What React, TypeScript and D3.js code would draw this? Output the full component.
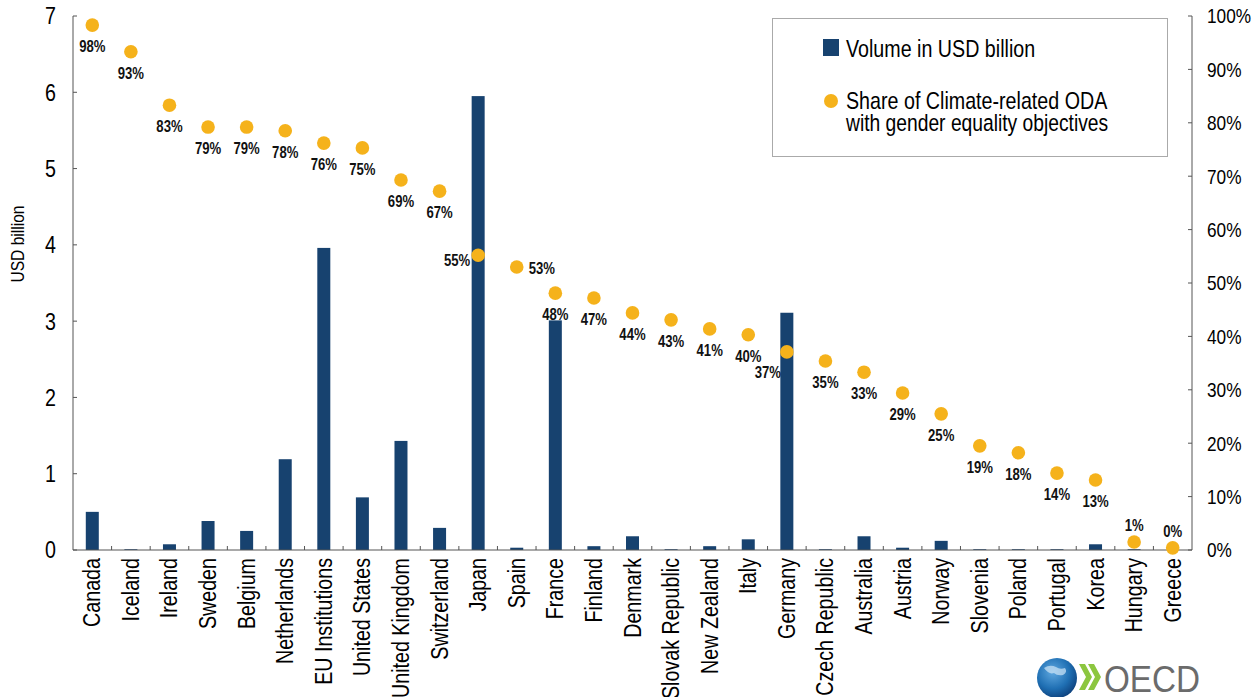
import React from "react";
import * as d3 from "d3";

const countries = [
  "Canada", "Iceland", "Ireland", "Sweden", "Belgium", "Netherlands", "EU Institutions",
  "United States", "United Kingdom", "Switzerland", "Japan", "Spain", "France", "Finland",
  "Denmark", "Slovak Republic", "New Zealand", "Italy", "Germany", "Czech Republic",
  "Australia", "Austria", "Norway", "Slovenia", "Poland", "Portugal", "Korea", "Hungary", "Greece",
];
const volume = [
  0.5, 0.01, 0.075, 0.38, 0.25, 1.19, 3.96, 0.69, 1.43, 0.29, 5.95, 0.03, 3.01, 0.05,
  0.18, 0.01, 0.05, 0.14, 3.11, 0.01, 0.18, 0.03, 0.12, 0.01, 0.01, 0.01, 0.075, 0.01, 0,
];
const share = [
  0.983, 0.933, 0.833, 0.792, 0.792, 0.785, 0.762, 0.753, 0.693, 0.672, 0.552, 0.53, 0.481,
  0.472, 0.444, 0.431, 0.414, 0.403, 0.371, 0.354, 0.333, 0.294, 0.255, 0.195, 0.182, 0.144,
  0.131, 0.015, 0.004,
];
const shareLabels = [
  "98%", "93%", "83%", "79%", "79%", "78%", "76%", "75%", "69%", "67%", "55%", "53%", "48%",
  "47%", "44%", "43%", "41%", "40%", "37%", "35%", "33%", "29%", "25%", "19%", "18%", "14%",
  "13%", "1%", "0%",
];
// label placement: below (default), left, right, above, leftBelow
const labelPos: Record<string, string> = {
  Japan: "left",
  Spain: "right",
  Germany: "leftBelow",
  Hungary: "above",
  Greece: "above",
};
const leftTicks = [0, 1, 2, 3, 4, 5, 6, 7];
const rightTicks = [0, 0.1, 0.2, 0.3, 0.4, 0.5, 0.6, 0.7, 0.8, 0.9, 1.0];

const W = 1260;
const H = 697;
const M = { left: 73, right: 1192, top: 16, bottom: 550 };
const FONT = "'Liberation Sans', Arial, sans-serif";
const NARROW = 0.82;
const BAR = "#17426f";
const DOT = "#f5b21b";

type NTProps = {
  x: number;
  y: number;
  rotate?: number;
  size: number;
  anchor?: string;
  bold?: boolean;
  fill?: string;
  dy?: string;
  children: React.ReactNode;
};
function NText({ x, y, rotate = 0, size, anchor = "start", bold = false, fill = "#000", dy, children }: NTProps) {
  return (
    <g transform={`translate(${x},${y}) rotate(${rotate}) scale(${NARROW},1)`}>
      <text x={0} y={0} dy={dy} textAnchor={anchor} fontFamily={FONT} fontSize={size} fontWeight={bold ? "bold" : "normal"} fill={fill}>
        {children}
      </text>
    </g>
  );
}

export default function App() {
  const xb = d3.scaleBand<string>().domain(countries).range([M.left, M.right]);
  const yL = d3.scaleLinear().domain([0, 7]).range([M.bottom, M.top]);
  const yR = d3.scaleLinear().domain([0, 1]).range([M.bottom, M.top]);
  const cx = (c: string) => (xb(c) as number) + xb.bandwidth() / 2;
  const barW = 13;

  return (
    <svg width={W} height={H} style={{ position: "absolute", left: 0, top: 0, background: "#fff" }}>
      <defs>
        <radialGradient id="globe" cx="40%" cy="35%" r="70%">
          <stop offset="0%" stopColor="#5fa8e0" />
          <stop offset="60%" stopColor="#1f6fb3" />
          <stop offset="100%" stopColor="#0d3f7a" />
        </radialGradient>
      </defs>
      {/* bars */}
      {countries.map((c, i) => (
        <rect key={c} x={cx(c) - barW / 2} width={barW} y={yL(volume[i])} height={M.bottom - yL(volume[i])} fill={BAR} />
      ))}
      {/* left axis */}
      <line x1={M.left} x2={M.left} y1={M.top} y2={M.bottom} stroke="#555" strokeWidth={1} />
      {leftTicks.map((t) => (
        <g key={t}>
          <line x1={M.left} x2={M.left + 4} y1={yL(t)} y2={yL(t)} stroke="#555" />
          <NText x={56} y={yL(t)} dy="0.35em" anchor="end" size={24}>
            {t}
          </NText>
        </g>
      ))}
      <NText x={24} y={244} rotate={-90} anchor="middle" size={19}>
        USD billion
      </NText>
      {/* right axis */}
      <line x1={M.right} x2={M.right} y1={M.top} y2={M.bottom} stroke="#555" strokeWidth={1} />
      {rightTicks.map((t) => (
        <g key={t}>
          <line x1={M.right - 4} x2={M.right} y1={yR(t)} y2={yR(t)} stroke="#555" />
          <NText x={1207} y={yR(t)} dy="0.35em" anchor="start" size={21}>
            {d3.format(".0%")(t)}
          </NText>
        </g>
      ))}
      {/* x axis */}
      <line x1={M.left} x2={M.right} y1={M.bottom} y2={M.bottom} stroke="#555" strokeWidth={1} />
      {countries.slice(1).map((c) => (
        <line key={c} x1={xb(c) as number} x2={xb(c) as number} y1={M.bottom} y2={M.bottom - 4} stroke="#555" />
      ))}
      {countries.map((c) => (
        <NText key={c} x={cx(c) + 8} y={558} rotate={-90} anchor="end" size={24}>
          {c}
        </NText>
      ))}
      {/* dots */}
      {countries.map((c, i) => (
        <circle key={c} cx={cx(c)} cy={yR(share[i])} r={6.8} fill={DOT} />
      ))}
      {countries.map((c, i) => {
        const px = cx(c);
        const py = yR(share[i]);
        const pos = labelPos[c] || "below";
        let lx = px, ly = py + 27, anchor = "middle";
        if (pos === "left") { lx = px - 8; ly = py + 11; anchor = "end"; }
        if (pos === "right") { lx = px + 12; ly = py + 7; anchor = "start"; }
        if (pos === "leftBelow") { lx = px - 19; ly = py + 26; anchor = "middle"; }
        if (pos === "above") { lx = px; ly = py - 11; anchor = "middle"; }
        return (
          <NText key={c} x={lx} y={ly} anchor={anchor} bold size={16} fill="#111">
            {shareLabels[i]}
          </NText>
        );
      })}
      {/* legend */}
      <rect x={772.5} y={18.5} width={395} height={138} fill="#fff" stroke="#aaa" strokeWidth={1} />
      <rect x={823} y={39} width={16} height={17} fill={BAR} />
      <NText x={846} y={49} dy="0.35em" size={24}>
        Volume in USD billion
      </NText>
      <circle cx={831} cy={101} r={7} fill={DOT} />
      <NText x={846} y={101} dy="0.35em" size={24}>
        Share of Climate-related ODA
      </NText>
      <NText x={846} y={123} dy="0.35em" size={23.5}>
        with gender equality objectives
      </NText>
      {/* OECD logo */}
      <g>
        <circle cx={1057} cy={678} r={20} fill="url(#globe)" />
        <path d="M1044,668 q6,-4 12,-1 q4,3 9,1 q3,4 -2,7 q-6,1 -9,-2 q-5,2 -10,-5z" fill="#cfe6f7" opacity={0.7} />
        <path d="M1079,664 l6,0 l7,13 l-7,13 l-6,0 l7,-13z" fill="#8cc63f" />
        <path d="M1088,664 l6,0 l7,13 l-7,13 l-6,0 l7,-13z" fill="#8cc63f" />
        <text x={1104} y={692} fontFamily={FONT} fontSize={37} fill="#6b6b6b" textLength={96} lengthAdjust="spacingAndGlyphs">
          OECD
        </text>
      </g>
    </svg>
  );
}
